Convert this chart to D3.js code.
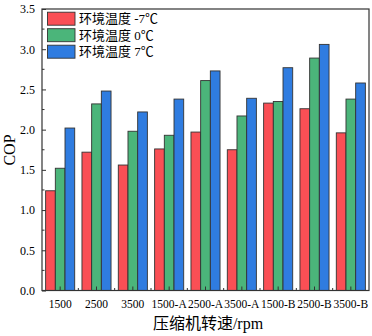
<!DOCTYPE html>
<html><head><meta charset="utf-8">
<script src="https://cdn.jsdelivr.net/npm/d3@7"></script>
<style>body{margin:0;background:#fff}svg{display:block}text{font-family:"Liberation Serif","Noto Sans CJK SC",serif;fill:#000}</style>
</head><body><svg id="c" width="372" height="336"></svg>
<script>
const categories = ["1500","2500","3500","1500-A","2500-A","3500-A","1500-B","2500-B","3500-B"];
const seriesNames = ["环境温度 -7℃","环境温度 0℃","环境温度 7℃"];
const seriesColors = ["#fa4f55","#4bb57a","#2f7ce0"];
const valsM7 = [1.24,1.72,1.56,1.76,1.97,1.75,2.33,2.26,1.96];
const vals0  = [1.52,2.32,1.98,1.93,2.61,2.17,2.35,2.89,2.38];
const vals7  = [2.02,2.48,2.22,2.38,2.73,2.39,2.77,3.06,2.58];
const yTicks = [0,0.5,1,1.5,2,2.5,3,3.5];
const series = [valsM7, vals0, vals7];

const svg = d3.select("#c");
const L=42, R=369, T=9, B=290.5;
const x = d3.scaleBand().domain(categories).range([L,R]).paddingInner(0.2).paddingOuter(0.1);
const xs = d3.scaleBand().domain([0,1,2]).range([0,x.bandwidth()]);
const y = d3.scaleLinear().domain([0,3.5]).range([B,T]);

// bars
series.forEach((vals,si)=>{
  svg.append("g").selectAll("rect").data(vals).join("rect")
    .attr("x",(d,i)=>x(categories[i])+xs(si))
    .attr("y",d=>y(d))
    .attr("width",xs.bandwidth())
    .attr("height",d=>B-y(d))
    .attr("fill",seriesColors[si])
    .attr("stroke","#333").attr("stroke-width",0.9);
});

// frame
svg.append("rect").attr("x",L).attr("y",T).attr("width",R-L).attr("height",B-T)
  .attr("fill","none").attr("stroke","#333").attr("stroke-width",1.2);

// y axis
const yAxis = d3.axisLeft(y).tickValues(yTicks).tickFormat(d3.format(".1f")).tickSizeInner(-4).tickSizeOuter(0).tickPadding(7);
const gy = svg.append("g").attr("transform",`translate(${L},0)`).call(yAxis);
gy.select(".domain").remove();
gy.selectAll("line").attr("stroke","#333");
gy.selectAll("text").attr("font-size","12px").style("font-family","Liberation Serif");
const minor = d3.range(0.25,3.5,0.5);
svg.append("g").selectAll("line").data(minor).join("line")
  .attr("x1",L).attr("x2",L+2.5).attr("y1",d=>y(d)).attr("y2",d=>y(d)).attr("stroke","#333");

// x axis
const xAxis = d3.axisBottom(x).tickSizeInner(-4).tickSizeOuter(0).tickPadding(9);
const gx = svg.append("g").attr("transform",`translate(0,${B})`).call(xAxis);
gx.select(".domain").remove();
gx.selectAll("line").attr("stroke","#333");
gx.selectAll("text").attr("font-size","11.5px").style("font-family","Liberation Serif");
const step = x.step();
svg.append("g").selectAll("line").data(categories.slice(1)).join("line")
  .attr("x1",d=>x(d)-step*x.paddingInner()/2).attr("x2",d=>x(d)-step*x.paddingInner()/2)
  .attr("y1",B).attr("y2",B-2.5).attr("stroke","#333");

// titles
svg.append("text").attr("x",208).attr("y",329).attr("text-anchor","middle").attr("font-size","16px").text("压缩机转速/rpm");
svg.append("text").attr("transform","translate(15,150) rotate(-90)").attr("text-anchor","middle").attr("font-size","16px").text("COP");

// legend
const lg = svg.append("g");
seriesNames.forEach((n,i)=>{
  const cy = 18.7 + i*16.5;
  lg.append("rect").attr("x",47.5).attr("y",cy-6.5).attr("width",27.5).attr("height",13)
    .attr("fill",seriesColors[i]).attr("stroke","#333").attr("stroke-width",0.9);
  lg.append("text").attr("x",79).attr("y",cy+4.5).attr("font-size","13px").text(n);
});
</script></body></html>
